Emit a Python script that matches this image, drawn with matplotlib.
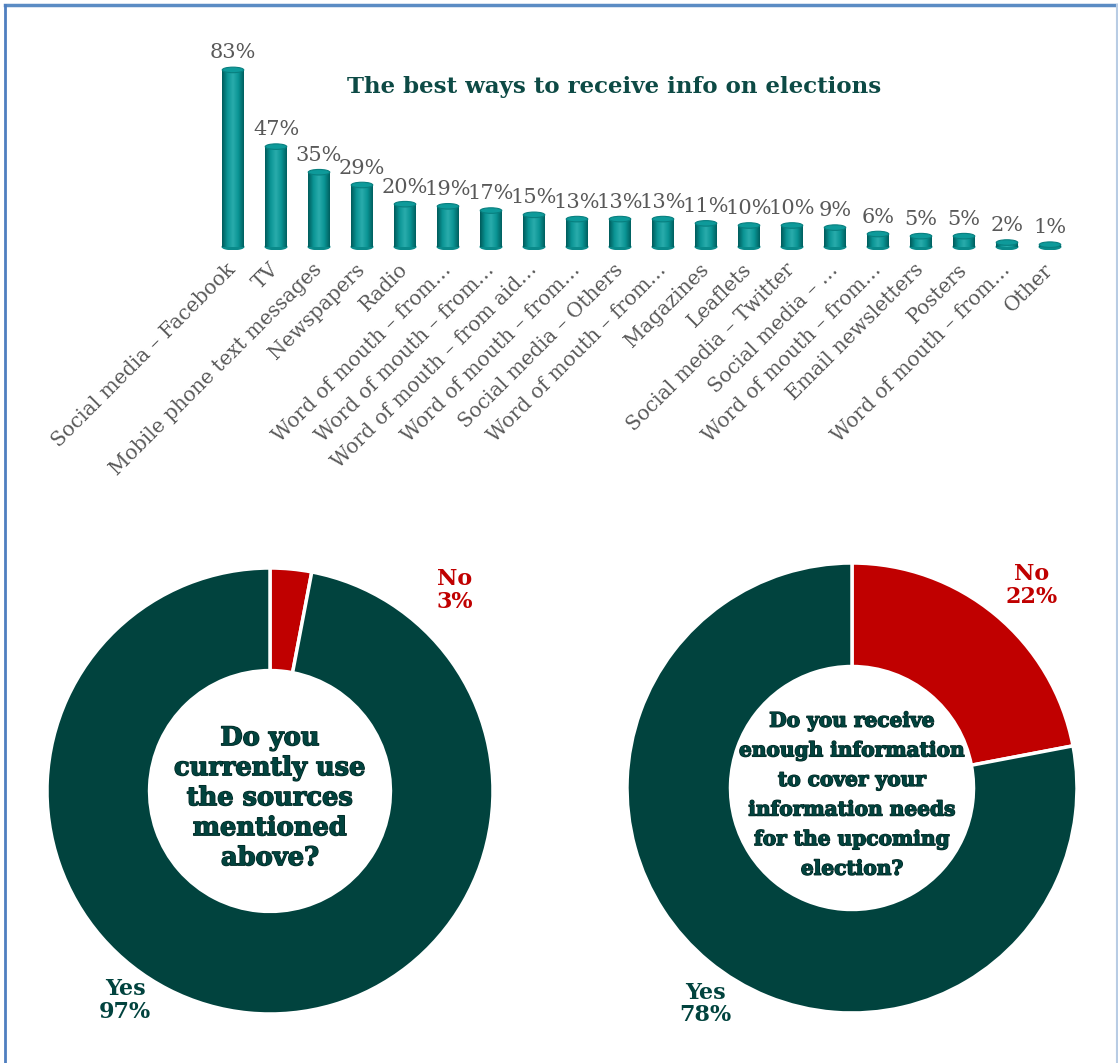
import numpy as np
import matplotlib
matplotlib.use("Agg")
import matplotlib.pyplot as plt
from matplotlib.colors import LinearSegmentedColormap
from matplotlib.patches import Ellipse
from matplotlib.lines import Line2D
import matplotlib.patheffects as pe

# %% Data
sources = [
    "Social media – Facebook", "TV", "Mobile phone text messages", "Newspapers",
    "Radio", "Word of mouth – from…", "Word of mouth – from…",
    "Word of mouth – from aid…", "Word of mouth – from…", "Social media – Others",
    "Word of mouth – from…", "Magazines", "Leaflets", "Social media – Twitter",
    "Social media – …", "Word of mouth – from…", "Email newsletters", "Posters",
    "Word of mouth – from…", "Other",
]
shares = [83, 47, 35, 29, 20, 19, 17, 15, 13, 13, 13, 11, 10, 10, 9, 6, 5, 5, 2, 1]

use_labels = ["No", "Yes"]
use_values = [3, 97]
enough_labels = ["No", "Yes"]
enough_values = [22, 78]

TEAL_DARK = "#0d4a45"
GREEN = "#01433e"
RED = "#c00000"
GREY = "#595959"
SERIF = "DejaVu Serif"

fig = plt.figure(figsize=(11.18, 10.63), dpi=100)
W, H = 1118, 1063

# %% Bar chart with cylinder-style bars
ax = fig.add_axes([211.5 / W, 1 - 250 / H, 860 / W, 195 / H])
x = np.arange(len(shares))
bw = 0.5
bars = ax.bar(x, shares, width=bw, color="none", edgecolor="none")

shade = LinearSegmentedColormap.from_list(
    "cyl", ["#005c5c", "#0b9595", "#2aacac", "#0a9494", "#006060"])
grad = np.linspace(0, 1, 64).reshape(1, -1)
cap_h = 2.6
for xi, rect, v in zip(x, bars, shares):
    im = ax.imshow(grad, cmap=shade, aspect="auto",
                   extent=[xi - bw / 2, xi + bw / 2, 0, v], zorder=2)
    im.set_clip_path(rect)
    ax.add_patch(Ellipse((xi, 0), bw, cap_h, color="#0a8a8a", zorder=1.9))
    ax.add_patch(Ellipse((xi, v), bw, cap_h, facecolor="#0e9a9a",
                         edgecolor="#087f7f", lw=0.8, zorder=3))
    ax.text(xi, v + 3.5, f"{v}%", ha="center", va="bottom",
            fontsize=15, color=GREY, family=SERIF)

ax.set_xlim(-0.5, len(shares) - 0.5)
ax.set_ylim(-1.5, 90)
ax.set_yticks([])
ax.set_xticks(x)
ax.set_xticklabels(sources, rotation=45, ha="right", va="center",
                   rotation_mode="anchor", fontsize=14.5, color=GREY, family=SERIF)
ax.tick_params(axis="x", length=0, pad=12)
for s in ax.spines.values():
    s.set_visible(False)

fig.text(614 / W, 1 - 87 / H, "The best ways to receive info on elections",
         ha="center", va="center", fontsize=16.5, fontweight="bold",
         color=TEAL_DARK, family=SERIF)


# %% Donut charts
def donut(cx, cy, r, labels, values, question, qsize, qspacing, pos_no, pos_yes):
    dax = fig.add_axes([(cx - r) / W, 1 - (cy + r) / H, 2 * r / W, 2 * r / H])
    dax.pie(values, colors=[RED, GREEN], startangle=90, counterclock=False,
            wedgeprops=dict(width=0.46, edgecolor="white", linewidth=2.5))
    dax.set_xlim(-1, 1)
    dax.set_ylim(-1, 1)
    dax.text(*pos_no, f"{labels[0]}\n{values[0]}%", ha="center", va="center",
             fontsize=16, fontweight="bold", color=RED, family=SERIF,
             linespacing=1.05)
    dax.text(*pos_yes, f"{labels[1]}\n{values[1]}%", ha="center", va="center",
             fontsize=16, fontweight="bold", color=GREEN, family=SERIF,
             linespacing=1.05)
    dax.text(0, -0.03, question, ha="center", va="center", fontsize=qsize,
             fontweight="bold", color=GREEN, family=SERIF, linespacing=qspacing,
             path_effects=[pe.withStroke(linewidth=1.0, foreground="#022622")])


donut(270, 791, 223, use_labels, use_values,
      "Do you\ncurrently use\nthe sources\nmentioned\nabove?", 18.5, 1.25,
      (0.83, 0.90), (-0.65, -0.94))
donut(852, 788, 225, enough_labels, enough_values,
      "Do you receive\nenough information\nto cover your\ninformation needs\n"
      "for the upcoming\nelection?", 14.5, 1.6,
      (0.80, 0.90), (-0.65, -0.96))

# %% Frame lines
fig.add_artist(Line2D([5 / W, 1], [1 - 5 / H, 1 - 5 / H], color="#5b8cc4", lw=2.5))
fig.add_artist(Line2D([5 / W, 5 / W], [0, 1 - 5 / H], color="#4f7fc0", lw=2))
fig.add_artist(Line2D([1117 / W, 1117 / W], [0, 1 - 5 / H], color="#b8cce4", lw=1.5))

fig.savefig("out.png", dpi=100)
